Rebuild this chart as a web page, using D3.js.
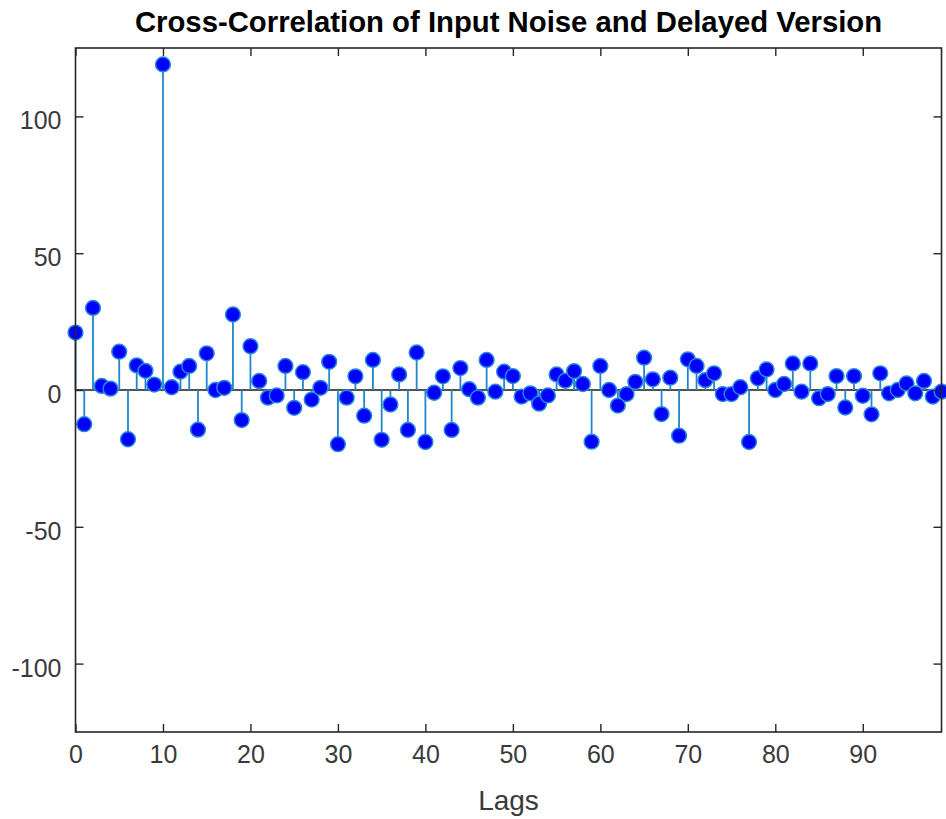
<!DOCTYPE html>
<html>
<head>
<meta charset="utf-8">
<script src="https://cdn.jsdelivr.net/npm/d3@7"></script>
<style>
  html, body { margin: 0; padding: 0; background: #fff; }
  svg { display: block; font-family: "Liberation Sans", Arial, Helvetica, sans-serif; }
</style>
</head>
<body>
<svg id="chart" width="946" height="819"></svg>
<script>
// Cross-correlation values for lags 0..99
const lags = d3.range(0, 100);
const xcorrValues = [
  21, -12.5, 30, 1.5, 0.5, 14, -18, 9, 7, 2,
  119, 1, 6.7, 8.8, -14.5, 13.4, 0, 0.8, 27.6, -11,
  16, 3.3, -2.8, -2, 8.8, -6.5, 6.5, -3.5, 0.8, 10.3,
  -19.8, -2.8, 5, -9.4, 11, -18.2, -5.3, 5.7, -14.6, 13.7,
  -19, -1, 5, -14.6, 8, 0.3, -2.8, 11, -0.6, 6.7,
  5.1, -2.4, -1.2, -5, -2, 5.7, 3.4, 6.9, 2.2, -18.9,
  8.8, 0, -5.7, -1.5, 3, 11.8, 3.9, -8.8, 4.5, -16.7,
  11.2, 8.8, 3.6, 6.1, -1.5, -1.5, 1, -19, 4.3, 7.5,
  0, 2.2, 9.7, -0.6, 9.7, -3, -1.5, 5.1, -6.4, 5.1,
  -2.1, -8.9, 6.1, -1.2, 0, 2.4, -1.2, 3.3, -2.4, -0.6
];
const xTicks = [0, 10, 20, 30, 40, 50, 60, 70, 80, 90];
const yTicks = [-100, -50, 0, 50, 100];
const titleText = "Cross-Correlation of Input Noise and Delayed Version";
const xLabelText = "Lags";

const svg = d3.select("#chart");
const plotLeft = 75.5, plotRight = 941.5, plotTop = 48, plotBottom = 732;
const axisColor = "#262626";

const x = d3.scaleLinear().domain([0, 99]).range([plotLeft, plotRight]);
const y = d3.scaleLinear().domain([-125, 125]).range([plotBottom, plotTop]);

const data = lags.map((k, i) => ({ lag: k, v: xcorrValues[i] }));

// Baseline at zero
svg.append("line")
  .attr("x1", plotLeft).attr("x2", plotRight)
  .attr("y1", y(0)).attr("y2", y(0))
  .attr("stroke", "#1a1a1a").attr("stroke-width", 1.6);

// Stems
svg.append("g").selectAll("line").data(data).join("line")
  .attr("x1", d => x(d.lag)).attr("x2", d => x(d.lag))
  .attr("y1", y(0)).attr("y2", d => y(d.v))
  .attr("stroke", "#1f86cc").attr("stroke-width", 1.8);

// Markers
svg.append("g").selectAll("circle").data(data).join("circle")
  .attr("cx", d => x(d.lag)).attr("cy", d => y(d.v))
  .attr("r", 7.4)
  .attr("fill", "#0000ff")
  .attr("stroke", "#2a86dc").attr("stroke-width", 1.5);

// Axes box with inward ticks on all four sides; plain hyphen for negatives
const fmt = v => String(v);
const tickLen = 8;
const axB = d3.axisBottom(x).tickValues(xTicks).tickFormat(fmt).tickSizeInner(-tickLen).tickSizeOuter(0).tickPadding(13);
const axT = d3.axisTop(x).tickValues(xTicks).tickSizeInner(-tickLen).tickSizeOuter(0).tickFormat("");
const axL = d3.axisLeft(y).tickValues(yTicks).tickFormat(fmt).tickSizeInner(-tickLen).tickSizeOuter(0).tickPadding(14);
const axR = d3.axisRight(y).tickValues(yTicks).tickSizeInner(-tickLen).tickSizeOuter(0).tickFormat("");

function styleAxis(g) {
  g.select(".domain").remove();
  g.selectAll(".tick line").attr("stroke", axisColor).attr("stroke-width", 1.4);
  g.selectAll(".tick text").attr("fill", "#3a3a3a").attr("font-size", 25)
    .attr("font-family", "\"Liberation Sans\", Arial, Helvetica, sans-serif");
}

svg.append("g").attr("transform", `translate(0,${plotBottom})`).call(axB).call(styleAxis);
svg.append("g").attr("transform", `translate(0,${plotTop})`).call(axT).call(styleAxis);
svg.append("g").attr("transform", `translate(${plotLeft},0)`).call(axL).call(styleAxis)
  .selectAll(".tick text").attr("dy", "0.5em");
svg.append("g").attr("transform", `translate(${plotRight},0)`).call(axR).call(styleAxis);

svg.append("rect")
  .attr("x", plotLeft).attr("y", plotTop)
  .attr("width", plotRight - plotLeft).attr("height", plotBottom - plotTop)
  .attr("fill", "none").attr("stroke", axisColor).attr("stroke-width", 1.6);

// Title and axis label
svg.append("text")
  .attr("x", (plotLeft + plotRight) / 2).attr("y", 32)
  .attr("text-anchor", "middle")
  .attr("font-size", 29.3).attr("font-weight", "bold").attr("fill", "#000")
  .text(titleText);

svg.append("text")
  .attr("x", (plotLeft + plotRight) / 2).attr("y", 810)
  .attr("text-anchor", "middle")
  .attr("font-size", 28).attr("fill", "#3a3a3a")
  .text(xLabelText);
</script>
</body>
</html>
